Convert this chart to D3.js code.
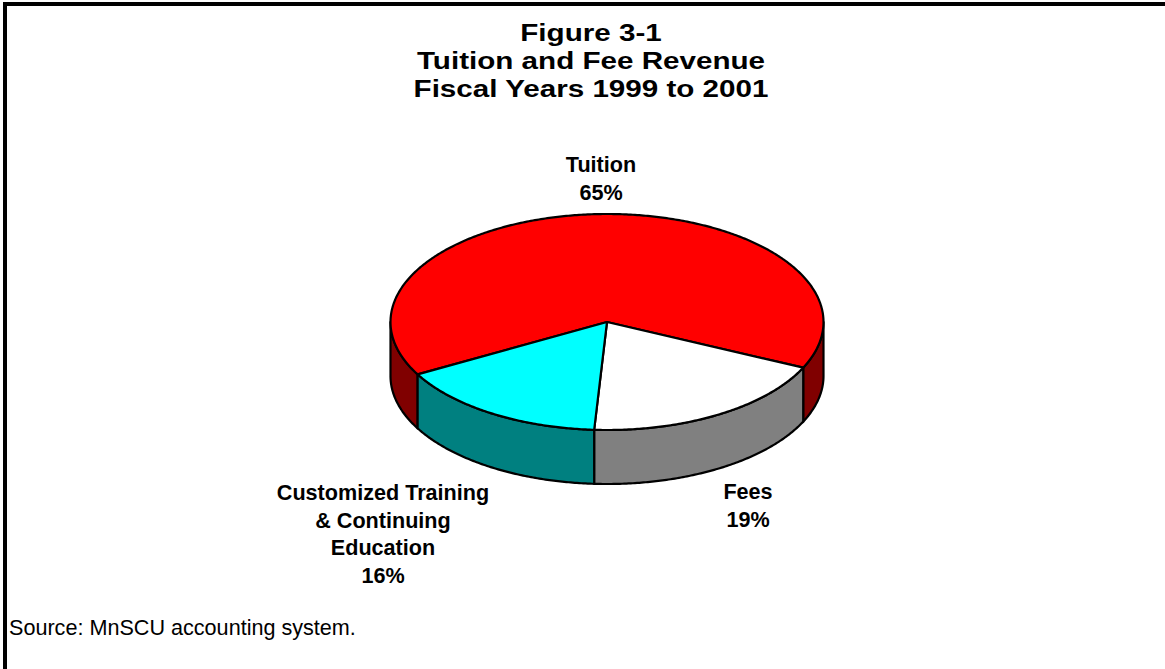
<!DOCTYPE html>
<html>
<head>
<meta charset="utf-8">
<script src="https://cdn.jsdelivr.net/npm/d3@7"></script>
<style>
  body { margin: 0; background: #fff; }
  svg { display: block; }
  text { font-family: Arial, "Liberation Sans", sans-serif; fill: #000; }
</style>
</head>
<body>
<svg id="chart" width="1165" height="669"></svg>
<script>
// chart data
var categories = ["Tuition", "Fees", "Customized Training & Continuing Education"];
var shares = [65, 19, 16];
var labelLines = [
  ["Tuition", "65%"],
  ["Fees", "19%"],
  ["Customized Training", "& Continuing", "Education", "16%"]
];
var titleLines = ["Figure 3-1", "Tuition and Fee Revenue", "Fiscal Years 1999 to 2001"];
var sourceNote = "Source: MnSCU accounting system.";

var topColors = ["#ff0000", "#ffffff", "#00ffff"];
var sideColors = ["#800000", "#808080", "#008080"];

var width = 1165, height = 669;
var svg = d3.select("svg#chart");

// pie geometry (ellipse, tilted)
var cx = 607, cy = 322, rx = 216.5, ry = 108, depth = 54;

var pie = d3.pie()
  .sort(null)
  .startAngle(241 * Math.PI / 180)
  .endAngle((241 + 360) * Math.PI / 180);

var slices = pie(shares);

// d3 angle (0 = 12 o'clock, clockwise) -> point on the ellipse
function pt(a, dy){
  var t = a - Math.PI / 2;
  return [cx + rx * Math.cos(t), cy + ry * Math.sin(t) + (dy || 0)];
}

function arcPoints(a0, a1, dy){
  var n = Math.max(2, Math.ceil(Math.abs(a1 - a0) / 0.01));
  var pts = [];
  for(var i = 0; i <= n; i++){
    pts.push(pt(a0 + (a1 - a0) * i / n, dy));
  }
  return pts;
}

var line = d3.line();

// front side walls: visible where screen angle in [0, 180] -> d3 angle [90, 270]
var walls = [];
slices.forEach(function(s, i){
  [0, 2 * Math.PI].forEach(function(shift){
    var lo = Math.max(s.startAngle, Math.PI / 2 + shift);
    var hi = Math.min(s.endAngle, 3 * Math.PI / 2 + shift);
    if(hi > lo){
      walls.push({i: i, a0: lo, a1: hi});
    }
  });
});

svg.append("g")
  .selectAll("path.wall")
  .data(walls)
  .enter().append("path")
  .attr("class", "wall")
  .attr("d", function(w){
    var pts = arcPoints(w.a0, w.a1, 0).concat(arcPoints(w.a1, w.a0, depth));
    return line(pts) + "Z";
  })
  .attr("fill", d => sideColors[d.i])
  .attr("stroke", "#000")
  .attr("stroke-width", 2.2)
  .attr("stroke-linejoin", "round");

// top faces
svg.append("g")
  .selectAll("path.top")
  .data(slices)
  .enter().append("path")
  .attr("class", "top")
  .attr("d", function(s){
    var pts = [[cx, cy]].concat(arcPoints(s.startAngle, s.endAngle, 0));
    return line(pts) + "Z";
  })
  .attr("fill", (d, i) => topColors[i])
  .attr("stroke", "#000")
  .attr("stroke-width", 2.2)
  .attr("stroke-linejoin", "round");

// slice labels
var labelPos = [
  {x: 601, y: 172},
  {x: 748, y: 499},
  {x: 383, y: 500}
];

var labels = svg.append("g")
  .selectAll("text.label")
  .data(slices)
  .enter().append("text")
  .attr("class", "label")
  .attr("text-anchor", "middle")
  .attr("font-size", 21.6)
  .attr("font-weight", "bold")
  .attr("x", (d, i) => labelPos[i].x)
  .attr("y", (d, i) => labelPos[i].y);

labels.selectAll("tspan")
  .data((d, i) => labelLines[i].map(t => ({t: t, i: i})))
  .enter().append("tspan")
  .attr("x", d => labelPos[d.i].x)
  .attr("dy", (d, j) => j === 0 ? 0 : 27.5)
  .text(d => d.t);

// title (slightly widened so the lines sit close like the original)
svg.append("g")
  .selectAll("text.title")
  .data(titleLines)
  .enter().append("text")
  .attr("class", "title")
  .attr("text-anchor", "middle")
  .attr("font-size", 24.8)
  .attr("font-weight", "bold")
  .attr("transform", (d, i) => "translate(591," + (41 + i * 28) + ") scale(1.194,1)")
  .text(d => d);

// source
svg.append("text")
  .attr("x", 9)
  .attr("y", 635)
  .attr("font-size", 21.6)
  .text(sourceNote);

// frame (top and left only)
svg.append("path")
  .attr("d", "M5,669 V4 H1165")
  .attr("fill", "none")
  .attr("stroke", "#000")
  .attr("stroke-width", 4);
</script>
</body>
</html>
